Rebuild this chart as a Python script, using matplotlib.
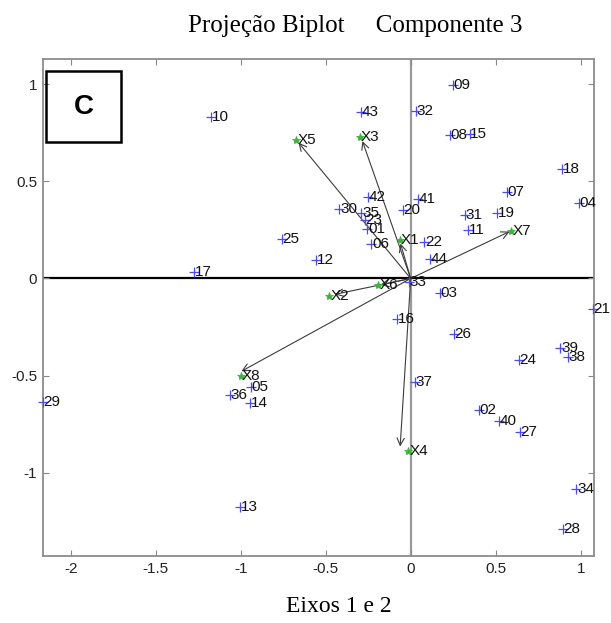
import matplotlib
matplotlib.use("Agg")
import matplotlib.pyplot as plt
from matplotlib.patches import Rectangle

obs_labels = ["01", "02", "03", "04", "05", "06", "07", "08", "09", "10",
              "11", "12", "13", "14", "15", "16", "17", "18", "19", "20",
              "21", "22", "23", "24", "25", "26", "27", "28", "29", "30",
              "31", "32", "33", "34", "35", "36", "37", "38", "39", "40",
              "41", "42", "43", "44"]
obs_x = [-0.255, 0.402, 0.171, 0.988, -0.94, -0.231, 0.567, 0.229, 0.249, -1.176,
         0.337, -0.559, -1.002, -0.943, 0.347, -0.08, -1.273, 0.892, 0.51, -0.047,
         1.07, 0.08, -0.27, 0.637, -0.757, 0.253, 0.641, 0.896, -2.166, -0.419,
         0.318, 0.03, -0.01, 0.975, -0.29, -1.065, 0.024, 0.927, 0.881, 0.518,
         0.041, -0.251, -0.29, 0.116]
obs_y = [0.256, -0.679, -0.076, 0.387, -0.56, 0.18, 0.445, 0.737, 0.996, 0.83,
         0.249, 0.094, -1.179, -0.641, 0.742, -0.21, 0.031, 0.562, 0.338, 0.352,
         -0.156, 0.19, 0.30, -0.418, 0.203, -0.284, -0.79, -1.289, -0.638, 0.357,
         0.326, 0.862, -0.019, -1.084, 0.335, -0.60, -0.534, -0.406, -0.36, -0.732,
         0.408, 0.422, 0.86, 0.103]

# variables (loadings)
var_labels = ["X1", "X2", "X3", "X4", "X5", "X6", "X7", "X8"]
var_x = [-0.065, -0.48, -0.30, -0.016, -0.672, -0.192, 0.592, -1.0]
var_y = [0.196, -0.088, 0.728, -0.887, 0.716, -0.031, 0.247, -0.503]
# arrow tips as drawn (slightly off the markers)
arrow_x = [-0.06, -0.447, -0.284, -0.062, -0.66, -0.178, 0.582, -0.996]
arrow_y = [0.18, -0.082, 0.708, -0.866, 0.70, -0.033, 0.242, -0.478]

x_ticks = [-2, -1.5, -1, -0.5, 0, 0.5, 1]
y_ticks = [-1, -0.5, 0, 0.5, 1]

plt.rcParams["font.family"] = ["Liberation Sans", "DejaVu Sans"]

fig = plt.figure(figsize=(6.11, 6.23), dpi=100)
ax = fig.add_axes([0.070, 0.1075, 0.902, 0.7975])

ax.set_xlim(-2.165, 1.078)
ax.set_ylim(-1.43, 1.13)

# reference lines through the origin
ax.axvline(0, color="#9a9a9a", lw=1.6, zorder=1)
ax.axhline(0, color="black", lw=1.6, zorder=1.1)

# variable arrows
for tx, ty in zip(arrow_x, arrow_y):
    ax.annotate("", xy=(tx, ty), xytext=(0, 0),
                arrowprops=dict(arrowstyle="->", color="#3c3c3c", lw=0.8,
                                shrinkA=0, shrinkB=0, mutation_scale=13),
                zorder=2)

# observation points
ax.plot(obs_x, obs_y, ls="none", marker="+", ms=7, mew=0.9,
        color="#4a4aff", zorder=3, clip_on=False)
for lab, x, y in zip(obs_labels, obs_x, obs_y):
    ax.annotate(lab, (x, y), xytext=(0.5, 0), textcoords="offset points",
                ha="left", va="center", fontsize=11, color="#111111", zorder=4)

# variable points
ax.plot(var_x, var_y, ls="none", marker="*", ms=6, mew=0.6,
        color="#3cb43c", zorder=3)
for lab, x, y in zip(var_labels, var_x, var_y):
    ax.annotate(lab, (x, y), xytext=(1, 0), textcoords="offset points",
                ha="left", va="center", fontsize=11, color="#111111", zorder=4)

ax.set_xticks(x_ticks)
ax.set_xticklabels([f"{t:g}" for t in x_ticks])
ax.set_yticks(y_ticks)
ax.set_yticklabels([f"{t:g}" for t in y_ticks])
ax.tick_params(direction="in", length=4, width=0.8, color="#888888",
               labelsize=11, labelcolor="#222222", top=True, right=True, pad=4)
for s in ax.spines.values():
    s.set_color("#8c8c8c")
    s.set_linewidth(1.3)

# panel letter
ax.add_patch(Rectangle((0.006, 0.833), 0.136, 0.143, transform=ax.transAxes,
                       fill=False, ec="black", lw=1.8, zorder=5))
ax.text(0.074, 0.9045, "C", transform=ax.transAxes, ha="center", va="center",
        fontsize=20, fontweight="bold", zorder=5)

fig.text(355 / 611, 1 - 26 / 623, "Projeção Biplot     Componente 3",
         family="Liberation Serif", fontsize=18, ha="center", va="center")
fig.text(339 / 611, 1 - 606 / 623, "Eixos 1 e 2",
         family="Liberation Serif", fontsize=17, ha="center", va="center")

fig.savefig("out.png", dpi=100)
